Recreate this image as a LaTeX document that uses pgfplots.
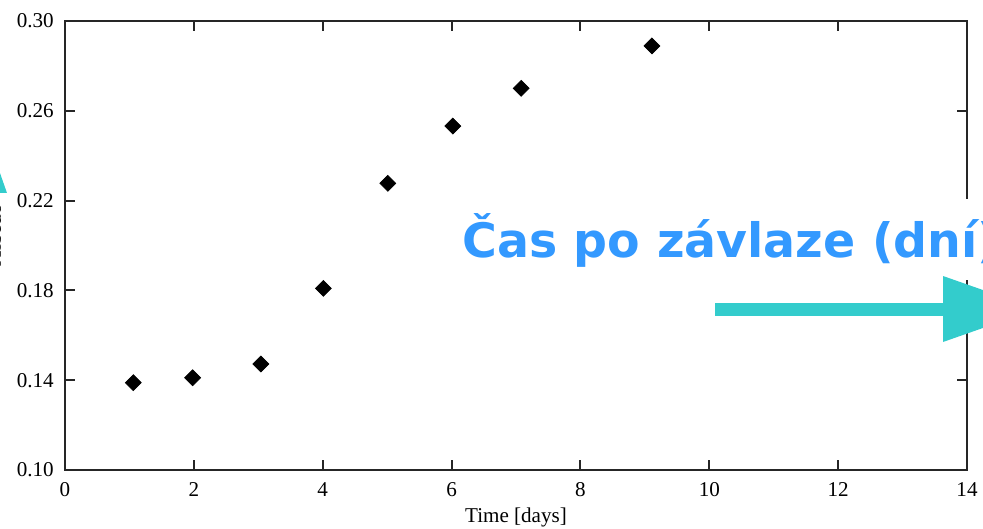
\documentclass[border=0pt]{standalone}
\usepackage{fontspec}
\setmainfont{Liberation Serif}
\newfontfamily\blueFont{DejaVu Sans}
\usepackage{pgfplots}
\pgfplotsset{compat=1.18}
\definecolor{capblue}{RGB}{51,153,255}
\definecolor{arrteal}{RGB}{51,204,204}
\begin{document}
\begin{tikzpicture}
\begin{axis}[
  at={(0,0)}, anchor=south west,
  scale only axis,
  width=18.04cm, height=8.98cm,
  xmin=0, xmax=14, ymin=0.10, ymax=0.30,
  xtick={0,2,...,14},
  ytick={0.10,0.14,0.18,0.22,0.26,0.30},
  tick align=inside, tick pos=both,
  major tick length=0.2cm,
  axis line style={line width=1.1pt, black!85},
  every tick/.style={line width=1.1pt, black!85},
  /pgf/number format/assume math mode=true,
  yticklabel style={/pgf/number format/fixed, /pgf/number format/fixed zerofill, /pgf/number format/precision=2},
  yticklabel style={font=\fontsize{12}{14}\selectfont, xshift=-0.1cm},
  xticklabel style={font=\fontsize{12}{14}\selectfont, yshift=-0.12cm},
  scaled y ticks=false,
]
\addplot[only marks, mark=square*, mark size=3.2pt, mark options={rotate=45, fill=black, draw=black}]
coordinates {
(1.06,0.1389) (1.98,0.1411) (3.04,0.1472) (4.01,0.1809)
(5.01,0.2277) (6.02,0.2532) (7.08,0.2700) (9.11,0.2889)
};
\end{axis}
\node[font=\fontsize{12}{14}\selectfont] at (9.02,-0.94) {Time [days]};
\node[rotate=90, anchor=base, inner sep=0pt, font=\fontsize{12}{14}\selectfont] at (-1.28,4.7) {Albedo};
% white box behind overlay text
\fill[white] (7.8,3.8) rectangle (19.5,5.42);
\node[anchor=base west, inner sep=0pt, text=capblue, font=\blueFont\bfseries\fontsize{27}{30}\selectfont] at (7.94,4.24) {Čas po závlaze (dní)};
% horizontal arrow
\fill[arrteal] (13.0,3.09) rectangle (17.6,3.35);
\fill[arrteal] (17.56,3.88) -- (17.56,2.56) -- (19.44,3.22) -- cycle;
% vertical arrow (mostly out of view)
\fill[arrteal] (-2.48,5.54) -- (-1.16,5.54) -- (-1.82,7.42) -- cycle;
\pgfresetboundingbox
\useasboundingbox (-1.30,-1.16) rectangle (18.36,9.40);
\end{tikzpicture}
\end{document}
